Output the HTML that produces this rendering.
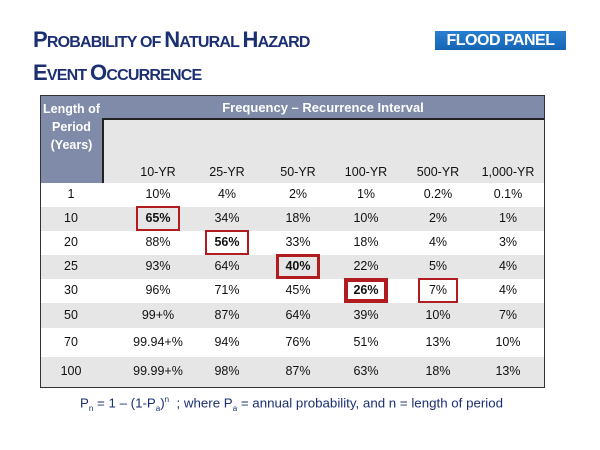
<!DOCTYPE html>
<html><head><meta charset="utf-8"><style>
*{margin:0;padding:0;box-sizing:border-box}
body{width:600px;height:450px;background:#fff;font-family:"Liberation Sans",sans-serif;position:relative;overflow:hidden}
.t{position:absolute;color:#1b2f72;font-weight:bold;left:33px;font-size:22px;letter-spacing:-0.8px}
.t small{font-size:16px}
#logo{position:absolute;left:435px;top:31px;width:131px;height:19px;background:linear-gradient(#2a7fd0,#1565b5);color:#fff;font-weight:bold;font-size:16px;text-align:center;line-height:19px;letter-spacing:-0.5px}
#tbl{position:absolute;left:40px;top:95px;width:505px;height:293px;border:1px solid #333;background:#fff}
.c{position:absolute;font-size:12.5px;color:#111;text-align:center;width:70px;margin-left:-35px}
.row{position:absolute;left:0;width:503px}
.box{position:absolute;border:2px solid #b01c20}
#formula{position:absolute;left:80px;top:395px;font-size:13.3px;color:#1b2f72}
sub,sup{font-size:8px}
</style></head><body>
<div class="t" style="top:27px">P<small>ROBABILITY OF </small>N<small>ATURAL </small>H<small>AZARD</small></div>
<div class="t" style="top:60px">E<small>VENT </small>O<small>CCURRENCE</small></div>
<div id="logo">FLOOD PANEL</div>
<div id="tbl">
<div style="position:absolute;left:0;top:0;width:503px;height:23px;background:#7f8ba8"></div>
<div style="position:absolute;left:0;top:0;width:61px;height:87px;background:#7f8ba8"></div>
<div style="position:absolute;left:61px;top:22px;width:442px;height:65px;background:#e6e6e6;border-top:2px solid #222;border-left:2px solid #222"></div>
<div style="position:absolute;left:0;top:4px;width:61px;text-align:center;color:#fff;font-weight:bold;font-size:12.5px;line-height:18px">Length of<br>Period<br>(Years)</div>
<div style="position:absolute;left:61px;top:4px;width:442px;text-align:center;color:#fff;font-weight:bold;font-size:13px">Frequency – Recurrence Interval</div>
<div id="body"></div>
</div>
<div id="formula">P<sub>n</sub> = 1 – (1-P<sub>a</sub>)<sup>n</sup> &nbsp;; where P<sub>a</sub> = annual probability, and n = length of period</div>
<script>
const cols=["10-YR","25-YR","50-YR","100-YR","500-YR","1,000-YR"];
const periods=["1","10","20","25","30","50","70","100"];
const vals=[["10%","4%","2%","1%","0.2%","0.1%"],["65%","34%","18%","10%","2%","1%"],["88%","56%","33%","18%","4%","3%"],["93%","64%","40%","22%","5%","4%"],["96%","71%","45%","26%","7%","4%"],["99+%","87%","64%","39%","10%","7%"],["99.94+%","94%","76%","51%","13%","10%"],["99.99+%","98%","87%","63%","18%","13%"]];
const hl=[[1,0,2],[2,1,2],[3,2,3],[4,3,4],[4,4,2]];
const colX=[117,186,257,325,397,467], labX=30;
const rowTop=[87,111,135,159,183,207,232,261], rowH=[24,24,24,24,24,25,29,30];
const b=document.getElementById('body');
cols.forEach((c,j)=>{const d=document.createElement('div');d.className='c';d.style.left=colX[j]+'px';d.style.top='69px';d.textContent=c;


b.appendChild(d);});
periods.forEach((p,i)=>{
 const r=document.createElement('div');r.className='row';r.style.top=rowTop[i]+'px';r.style.height=rowH[i]+'px';r.style.background=i%2?'#e6e6e6':'#fff';
 
 
 b.appendChild(r);
 const ty=rowTop[i]+rowH[i]/2-8;
 const l=document.createElement('div');l.className='c';l.style.left=labX+'px';l.style.top=ty+'px';l.textContent=p;
 
 
 b.appendChild(l);
 vals[i].forEach((v,j)=>{const d=document.createElement('div');d.className='c';d.style.left=colX[j]+'px';d.style.top=ty+'px';d.textContent=v;
 if(hl.some(h=>h[0]==i&&h[1]==j&&h[1]<4))d.style.fontWeight='bold';
 
 
 b.appendChild(d);});
});
hl.forEach(h=>{const [i,j,w]=h;const bx=document.createElement('div');bx.className='box';
 const wd=j==4?40:44;bx.style.left=(colX[j]-wd/2)+'px';bx.style.top=(rowTop[i]-1)+'px';bx.style.width=wd+'px';bx.style.height=(rowH[i]+1)+'px';bx.style.borderWidth=w+'px';
 
 
 b.appendChild(bx);});
</script>
</body></html>
